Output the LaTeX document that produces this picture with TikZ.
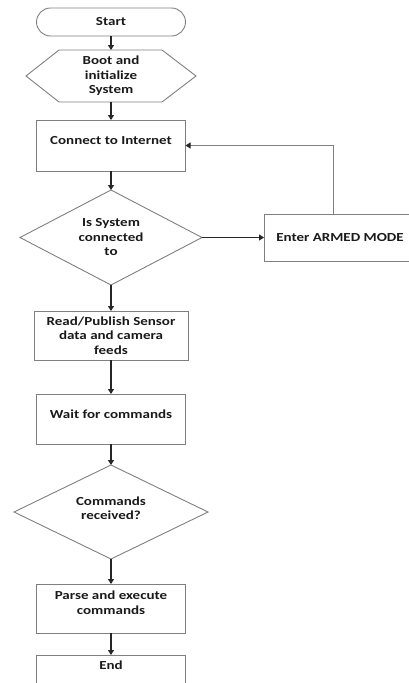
\documentclass[tikz,border=0pt]{standalone}
\usepackage{fontspec}
\newfontfamily\flowfont{Carlito}[FakeStretch=1.22]
\usetikzlibrary{shapes.geometric, shapes.misc, arrows.meta, positioning, calc}
\definecolor{linegray}{RGB}{127, 127, 127}
\definecolor{inkdark}{RGB}{38, 38, 38}
\definecolor{textdark}{RGB}{26, 26, 26}

\begin{document}
\begin{tikzpicture}[x=1pt, y=1pt,
            base/.style={draw=linegray, line width=0.9pt, text=textdark, align=center, inner sep=0pt, outer sep=0pt, font=\flowfont\bfseries\fontsize{12.3}{14.5}\selectfont},
            box/.style={base, rectangle, minimum width=149pt, minimum height=51pt},
            terminal/.style={base, rounded rectangle, minimum width=149pt, minimum height=28pt},
            hexbox/.style={base, draw=none, minimum width=170pt, minimum height=52pt},
            decision/.style={base, diamond, aspect=1.9, minimum width=182pt, minimum height=95pt},
            arrow/.style={-{Triangle[length=5pt, width=6pt]}, line width=1.3pt, inkdark},
            back/.style={-{Triangle[length=5pt, width=6pt, color=inkdark]}, line width=1pt, linegray}
        ]
            \useasboundingbox (0,0) rectangle (409,-683);
            \clip (0,0) rectangle (409,-683);

            \node[terminal] (start) at (111,-22) {Start};
            \node[hexbox, below=14pt of start] (boot) {Boot and\\initialize\\System};
            \node[box, below=18pt of boot, text depth=10pt] (connect) {Connect to Internet};
            \node[decision, below=19pt of connect] (isconn) {Is System\\connected\\to};
            \node[box, right=62pt of isconn, minimum width=152pt, minimum height=47pt] (armed) {Enter ARMED MODE};
            \node[box, below=26pt of isconn, minimum width=154pt, minimum height=49pt] (read) {Read/Publish Sensor\\data and camera\\feeds};
            \node[box, below=34pt of read, minimum height=50pt, text depth=9pt] (wait) {Wait for commands};
            \node[decision, below=21pt of wait, minimum width=194pt, minimum height=94pt, text depth=8pt] (received) {Commands\\received?};
            \node[box, below=25pt of received, minimum height=49pt, text depth=12pt] (parse) {Parse and execute\\commands};
            \node[box, below=22pt of parse, text depth=30pt] (finish) {End};

            % hexagon outline for the boot step
            \draw[linegray, line width=0.9pt] (boot.west) -- ([xshift=33pt]boot.north west) -- ([xshift=-34pt]boot.north east) -- (boot.east) -- ([xshift=-34pt]boot.south east) -- ([xshift=33pt]boot.south west) -- cycle;

            \draw[arrow] (start) -- (boot);
            \draw[arrow] (boot) -- (connect);
            \draw[arrow] (connect) -- (isconn);
            \draw[arrow] (isconn) -- (armed);
            \draw[back] ([xshift=-7pt]armed.north) |- (connect.east);
            \draw[arrow] (isconn) -- (read);
            \draw[arrow] (read) -- (wait);
            \draw[arrow] (wait) -- (received);
            \draw[arrow] (received) -- (parse);
            \draw[arrow] (parse) -- (finish);
        \end{tikzpicture}
\end{document}
